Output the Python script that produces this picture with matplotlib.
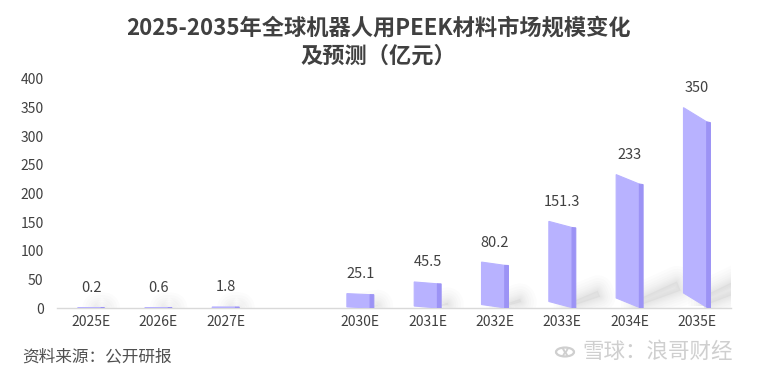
import numpy as np
import matplotlib.pyplot as plt
from matplotlib.patches import Polygon, Circle

plt.rcParams['font.family'] = ['Noto Sans CJK SC', 'DejaVu Sans']

# data
years = ["2025E", "2026E", "2027E", "", "2030E", "2031E", "2032E", "2033E", "2034E", "2035E"]
values = [0.2, 0.6, 1.8, None, 25.1, 45.5, 80.2, 151.3, 233, 350]
labels = ["0.2", "0.6", "1.8", "", "25.1", "45.5", "80.2", "151.3", "233", "350"]

front = "#b8b2ff"
side = "#9c93f5"
text_c = "#404040"

fig = plt.figure(figsize=(7.57, 3.75), dpi=100)
ax = fig.add_axes([57.4 / 757, 67 / 375, 673.2 / 757, 229 / 375])
ax.set_xlim(-0.5, len(years) - 0.5)
ax.set_ylim(0, 400)

w = 0.4
strip = 0.055
for i, v in enumerate(values):
    if v is None:
        continue
    x0, x1 = i - w / 2, i + w / 2
    lift = 0.075 * v
    # soft shadow to the right
    dx = 0.0024 * v
    dy = 0.2 * v
    shadow = [(x1 - 0.1, 0.01 * v), (x1 + dx, dy * 0.65), (x1 + dx * 0.9, dy), (x1 - 0.1, dy * 0.3)]
    for lw in [22, 18, 14, 11, 8, 6, 4, 2]:
        ax.add_patch(Polygon(shadow, closed=True, facecolor="none", edgecolor="#a0a0a0",
                             lw=lw, alpha=0.03, joinstyle="round", zorder=1))
    ax.add_patch(Polygon(shadow, closed=True, facecolor="#a0a0a0", edgecolor="none",
                         alpha=0.12, zorder=1))
    # front face (slanted)
    face = [(x0, lift), (x1 - strip, 0.004 * v), (x1 - strip, v - lift + 0.004 * v), (x0, v)]
    ax.add_patch(Polygon(face, closed=True, facecolor=front, edgecolor=front, lw=0.8, zorder=3))
    # darker right side
    sd = [(x1 - strip, 0.004 * v), (x1, 0), (x1, v - lift), (x1 - strip, v - lift + 0.004 * v)]
    ax.add_patch(Polygon(sd, closed=True, facecolor=side, edgecolor=side, lw=0.8, zorder=3))
    ax.annotate(labels[i], (i, v), xytext=(0, 9), textcoords="offset points",
                ha="center", va="bottom", fontsize=10.5, color=text_c, zorder=4)

ax.set_xticks(range(len(years)))
ax.set_xticklabels(years, fontsize=10, color=text_c)
ax.set_yticks(np.arange(0, 401, 50))
ax.tick_params(axis="y", labelsize=10, labelcolor=text_c, length=0, pad=10)
ax.tick_params(axis="x", length=0, pad=5)
for s in ["top", "right", "left"]:
    ax.spines[s].set_visible(False)
ax.spines["bottom"].set_color("#d9d9d9")
ax.spines["bottom"].set_linewidth(1)

fig.text(0.5, 1 - 28 / 375, "2025-2035年全球机器人用PEEK材料市场规模变化", ha="center", va="center",
         fontsize=16, fontweight="bold", color=text_c)
fig.text(0.5, 1 - 56 / 375, "及预测（亿元）", ha="center", va="center",
         fontsize=16, fontweight="bold", color=text_c)

fig.text(22 / 757, 1 - 357 / 375, "资料来源：公开研报", ha="left", va="center",
         fontsize=12, color="#505050")

# watermark
wm = "#cfcfcf"
fig.patches.append(Circle((565 / 757, 1 - 352 / 375), 9 / 757, transform=fig.transFigure,
                          fill=False, edgecolor=wm, lw=1.6))
fig.text(565 / 757, 1 - 352 / 375, "x", ha="center", va="center", fontsize=11,
         fontweight="bold", color=wm)
fig.text(733 / 757, 1 - 352 / 375, "雪球：浪哥财经", ha="right", va="center",
         fontsize=15.5, color=wm)

fig.savefig("out.png", dpi=100)
